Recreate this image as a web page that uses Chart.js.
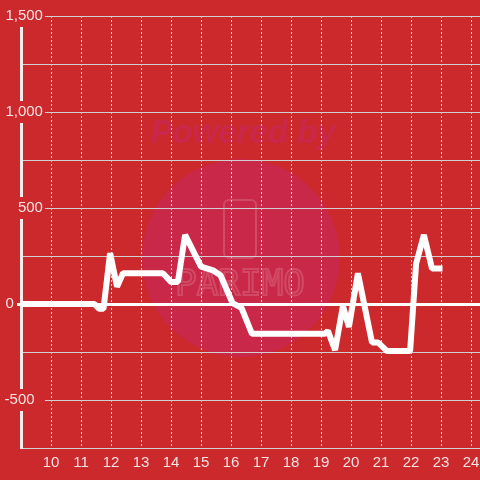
<!DOCTYPE html>
<html>
<head>
<meta charset="utf-8">
<script src="https://cdn.jsdelivr.net/npm/chart.js@4"></script>
<style>
  html, body { margin: 0; padding: 0; background: #cc292d; }
  #wrap { width: 480px; height: 480px; }
</style>
</head>
<body>
<div id="wrap"><canvas id="myChart"></canvas></div>
<script>
// hours of the day (x) and values (y)
const hours = [9, 11.45, 11.6, 11.75, 11.97, 12.2, 12.4, 13.73, 14.0, 14.23, 14.47, 15.0, 15.4, 15.65, 16.05, 16.35, 16.7,
  19.13, 19.23, 19.47, 19.73, 19.93, 20.23, 20.7, 20.9, 21.2, 21.97, 22.17, 22.43, 22.7, 23.05]
const values = [0, 0, -25, -25, 265, 90, 160, 160, 115, 115, 360, 195, 175, 150, 5, -20, -155,
  -155, -140, -240, -10, -120, 160, -200, -200, -245, -245, 210, 360, 185, 185]
const xTicks = [10, 11, 12, 13, 14, 15, 16, 17, 18, 19, 20, 21, 22, 23, 24]
const yLabelled = [1500, 1000, 500, 0, -500]

const bg = '#cc292d'
const labelColor = '#f4e4e4'

// background + faint "Powered by" watermark, drawn under the grid
const backdrop = {
  id: 'backdrop',
  beforeDraw (chart) {
    const ctx = chart.ctx
    ctx.save()
    ctx.fillStyle = bg
    ctx.fillRect(0, 0, chart.width, chart.height)
    ctx.fillStyle = '#c92848'
    ctx.beginPath()
    ctx.arc(241, 258, 99, 0, Math.PI * 2)
    ctx.fill()
    ctx.font = 'italic bold 33px "Liberation Sans", Arial, sans-serif'
    ctx.textAlign = 'center'
    ctx.textBaseline = 'middle'
    ctx.fillStyle = '#c9284a'
    ctx.fillText('Powered by', 243, 134)
    ctx.strokeStyle = 'rgba(255,255,255,0.16)'
    ctx.lineWidth = 2
    ctx.beginPath()
    ctx.roundRect(224, 200, 32, 58, 5)
    ctx.stroke()
    ctx.font = '36px "DejaVu Sans Mono", monospace'
    ctx.strokeText('PARIMO', 240, 286)
    ctx.restore()
  }
}

// y labels: "0" and "-500" sit further left in the original, padded with spaces
const yLabel = v => {
  if (v === 0) return '0       '
  if (v === -500) return '-500  '
  return v.toLocaleString('en-US')
}

new Chart(document.getElementById('myChart'), {
  type: 'line',
  data: {
    datasets: [{
      data: hours.map((h, i) => ({ x: h, y: values[i] })),
      borderColor: '#ffffff',
      borderWidth: 6,
      borderJoinStyle: 'bevel',
      pointRadius: 0,
      tension: 0,
      fill: false
    }]
  },
  options: {
    responsive: true,
    maintainAspectRatio: false,
    animation: false,
    layout: { padding: { top: 16, right: 0, bottom: 2, left: 0 } },
    plugins: { legend: { display: false }, tooltip: { enabled: false } },
    scales: {
      x: {
        type: 'linear',
        min: 9,
        max: 24.3,
        afterBuildTicks: scale => { scale.ticks = xTicks.map(v => ({ value: v })) },
        afterFit: scale => { scale.paddingRight = 0; scale.paddingLeft = 0 },
        grid: {
          color: 'rgba(255,255,255,0.85)',
          lineWidth: 1,
          drawTicks: false
        },
        border: { display: true, color: '#d2d2d2', width: 1, dash: [2, 2] },
        ticks: {
          color: labelColor,
          font: { family: '"Liberation Sans", Arial, sans-serif', size: 15 },
          padding: 6,
          maxRotation: 0,
          autoSkip: false,
          callback: v => String(v)
        }
      },
      y: {
        min: -750,
        max: 1500,
        afterFit: scale => { scale.width = 21 },
        grid: {
          color: ctx => ctx.tick && ctx.tick.value === 0 ? '#ffffff' : '#d0d0d0',
          lineWidth: ctx => ctx.tick && ctx.tick.value === 0 ? 3 : 1,
          drawTicks: true,
          tickLength: 4,
          tickColor: ctx => ctx.tick && ctx.tick.value === 0 ? '#ffffff' : 'rgba(0,0,0,0)',
          tickWidth: ctx => ctx.tick && ctx.tick.value === 0 ? 3 : 1
        },
        border: { display: true, color: '#f4eeee', width: 3 },
        ticks: {
          stepSize: 250,
          mirror: true,
          crossAlign: 'far',
          color: labelColor,
          font: { family: '"Liberation Sans", Arial, sans-serif', size: 15 },
          padding: -16.4,
          showLabelBackdrop: true,
          backdropColor: ctx => yLabelled.includes(ctx.tick.value) && ctx.tick.value !== 0 ? bg : 'rgba(0,0,0,0)',
          backdropPadding: 2,
          callback: v => yLabelled.includes(v) ? yLabel(v) : ''
        }
      }
    }
  },
  plugins: [backdrop]
})
</script>
</body>
</html>
